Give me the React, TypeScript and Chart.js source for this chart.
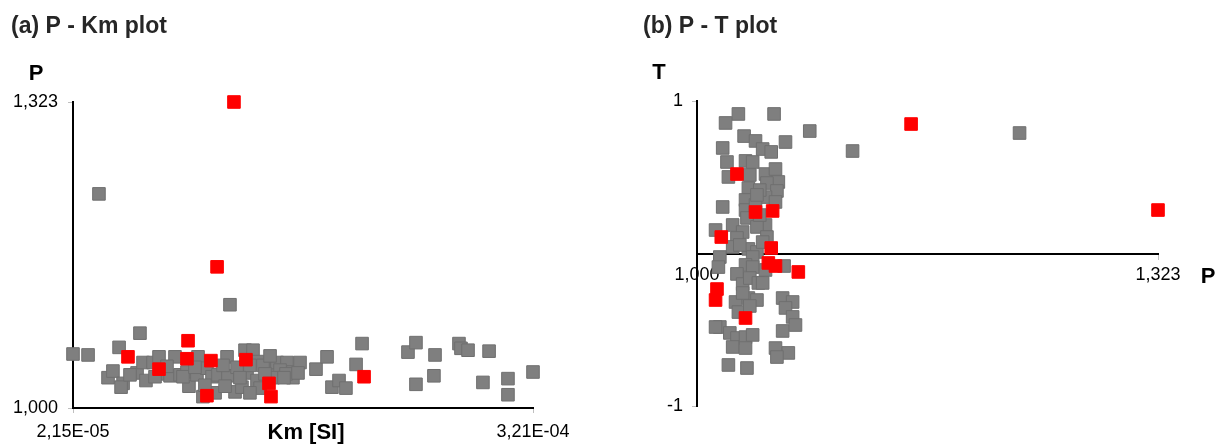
import React, { useEffect, useRef } from 'react';
import { Chart, registerables } from 'chart.js';

Chart.register(...registerables);

const FONT = "'Liberation Sans', Arial, Helvetica, sans-serif";

// ---------- axis ranges & tick labels ----------
const KM_RANGE = [2.15e-5, 3.21e-4];
const KM_TICK_LABELS = ['2,15E-05', '3,21E-04'];
const P_RANGE = [1.0, 1.323];
const P_TICK_LABELS = ['1,000', '1,323'];
const T_RANGE = [-1, 1];
const T_TICK_LABELS = ['-1', '1'];

// ---------- (a) P - Km : grey specimens ----------
const greyKm = [
  3.84e-5, 12.37e-5, 2.15e-5, 3.13e-5, 6.51e-5, 5.15e-5, 4.43e-5, 4.75e-5, 5.41e-5, 5.28e-5,
  6.32e-5, 6.71e-5, 6.9e-5, 7.36e-5, 7.75e-5, 7.94e-5, 8.47e-5, 8.79e-5, 9.12e-5, 9.57e-5,
  9.7e-5, 10.22e-5, 10.29e-5, 10.87e-5, 11.2e-5, 11.59e-5, 12.24e-5, 12.18e-5, 12.7e-5, 13.15e-5,
  13.35e-5, 13.87e-5, 13.48e-5, 14.13e-5, 14.33e-5, 14.2e-5, 14.78e-5, 15.43e-5, 16.08e-5, 16.47e-5,
  16.93e-5, 16.47e-5, 11.4e-5, 10.61e-5, 15.63e-5, 15.17e-5, 17.97e-5, 18.69e-5, 20.97e-5, 20.58e-5,
  19.01e-5, 19.47e-5, 19.92e-5, 23.96e-5, 24.48e-5, 25.72e-5, 24.48e-5, 25.65e-5, 27.28e-5, 27.41e-5,
  27.87e-5, 29.24e-5, 28.84e-5, 30.47e-5, 30.47e-5, 32.1e-5, 9.31e-5, 10.09e-5, 11.92e-5, 12.83e-5,
  13.67e-5, 14.52e-5, 14.65e-5, 16.02e-5, 16.8e-5, 5.86e-5, 8.27e-5, 7.49e-5, 13.02e-5, 14.98e-5,
  10.74e-5, 12.05e-5, 13.67e-5, 15.89e-5,
];
const greyPa = [
  1.226, 1.109, 1.057, 1.056, 1.079, 1.064, 1.032, 1.039, 1.026, 1.022,
  1.037, 1.048, 1.029, 1.048, 1.054, 1.036, 1.034, 1.054, 1.035, 1.038,
  1.023, 1.035, 1.054, 1.042, 1.033, 1.035, 1.034, 1.054, 1.017, 1.022,
  1.061, 1.061, 1.037, 1.029, 1.021, 1.049, 1.043, 1.048, 1.048, 1.038,
  1.048, 1.032, 1.016, 1.012, 1.04, 1.032, 1.041, 1.054, 1.068, 1.046,
  1.022, 1.029, 1.021, 1.059, 1.069, 1.056, 1.025, 1.034, 1.068, 1.063,
  1.061, 1.06, 1.027, 1.031, 1.014, 1.038, 1.033, 1.043, 1.045, 1.043,
  1.045, 1.045, 1.036, 1.036, 1.037, 1.035, 1.044, 1.033, 1.032, 1.055,
  1.024, 1.023, 1.016, 1.032,
];

// ---------- (a) P - Km : red specimens ----------
const redKm = [
  12.63e-5, 11.53e-5, 9.64e-5, 5.73e-5, 9.57e-5, 11.13e-5, 13.41e-5, 7.75e-5, 14.91e-5, 15.04e-5,
  10.87e-5, 21.1e-5,
];
const redPa = [1.323, 1.149, 1.071, 1.054, 1.052, 1.05, 1.051, 1.041, 1.026, 1.012, 1.013, 1.033];

// ---------- (b) P - T : grey specimens ----------
const greyPb = [
  1.029, 1.054, 1.02, 1.033, 1.041, 1.046, 1.052, 1.062, 1.079, 1.109,
  1.226, 1.018, 1.021, 1.034, 1.039, 1.022, 1.037, 1.048, 1.055, 1.057,
  1.036, 1.049, 1.056, 1.034, 1.048, 1.055, 1.018, 1.034, 1.035, 1.025,
  1.048, 1.032, 1.013, 1.028, 1.042, 1.049, 1.025, 1.036, 1.042, 1.039,
  1.016, 1.015, 1.034, 1.039, 1.048, 1.061, 1.028, 1.032, 1.037, 1.043,
  1.027, 1.036, 1.042, 1.029, 1.037, 1.06, 1.067, 1.062, 1.067, 1.016,
  1.023, 1.028, 1.034, 1.039, 1.025, 1.034, 1.06, 1.055, 1.064, 1.056,
  1.022, 1.035, 1.032, 1.046, 1.069, 1.013, 1.044, 1.041, 1.044, 1.03,
  1.042, 1.046,
];
const greyT = [
  0.915, 0.915, 0.856, 0.77, 0.738, 0.685, 0.666, 0.731, 0.803, 0.672,
  0.79, 0.692, 0.6, 0.607, 0.6, 0.502, 0.515, 0.521, 0.554, 0.469,
  0.429, 0.462, 0.41, 0.351, 0.37, 0.338, 0.305, 0.285, 0.233, 0.187,
  0.187, 0.141, 0.154, 0.102, 0.174, 0.108, 0.043, 0.03, 0.01, -0.023,
  -0.023, -0.089, -0.075, -0.089, -0.108, -0.082, -0.134, -0.2, -0.161, -0.193,
  -0.318, -0.292, -0.305, -0.384, -0.344, -0.292, -0.318, -0.357, -0.416, -0.482,
  -0.521, -0.554, -0.548, -0.534, -0.613, -0.62, -0.508, -0.62, -0.652, -0.679,
  -0.731, -0.751, -0.259, -0.193, -0.469, -0.482, 0.416, 0.318, 0.252, 0.056,
  0.384, 0.075,
];

// ---------- (b) P - T : red specimens ----------
const redPb = [1.15, 1.323, 1.028, 1.041, 1.053, 1.017, 1.052, 1.05, 1.055, 1.071, 1.014, 1.013, 1.034];
const redT = [0.849, 0.285, 0.521, 0.272, 0.279, 0.108, 0.036, -0.062, -0.082, -0.121, -0.233, -0.305, -0.423];

const GREY = '#7f7f7f';
const RED = '#ff0000';

function dataset(xs: number[], ys: number[], fill: string, border: string) {
  return {
    data: xs.map((x, i) => ({ x, y: ys[i] })),
    pointStyle: 'rect',
    pointRadius: 8.9,
    pointHoverRadius: 8.9,
    pointBackgroundColor: fill,
    pointBorderColor: border,
    pointBorderWidth: 1,
    showLine: false,
    clip: false,
  };
}

function axis(range: number[], labels: string[], position: any, padding: number, fit?: (s: any) => void) {
  return {
    type: 'linear',
    position,
    min: range[0],
    max: range[1],
    afterBuildTicks: (s: any) => {
      s.ticks = range.map((v) => ({ value: v }));
    },
    afterFit: fit,
    ticks: {
      autoSkip: false,
      maxRotation: 0,
      minRotation: 0,
      padding,
      color: '#000',
      font: { family: FONT, size: 18 },
      callback: (_v: any, i: number) => labels[i],
    },
    grid: { drawOnChartArea: false, drawTicks: true, tickLength: 5, color: '#bfbfbf', lineWidth: 1 },
    border: { display: true, color: '#000', width: 2 },
  };
}

type TextItem = { text: string; x: number; y: number; font: string; align: CanvasTextAlign; color: string };

function textPlugin(items: TextItem[]) {
  return {
    id: 'texts',
    afterDraw(chart: any) {
      const ctx = chart.ctx;
      ctx.save();
      ctx.textBaseline = 'alphabetic';
      for (const t of items) {
        ctx.font = t.font;
        ctx.fillStyle = t.color;
        ctx.textAlign = t.align;
        ctx.fillText(t.text, t.x, t.y);
      }
      ctx.restore();
    },
  };
}

const TITLE_FONT = `bold 23px ${FONT}`;
const AXIS_FONT = `bold 22px ${FONT}`;

export default function App() {
  const refA = useRef<HTMLCanvasElement>(null);
  const refB = useRef<HTMLCanvasElement>(null);

  useEffect(() => {
    const common = {
      responsive: false,
      animation: false,
      devicePixelRatio: 1,
      events: [],
      plugins: { legend: { display: false }, tooltip: { enabled: false } },
    };

    const chartA = new Chart(refA.current as HTMLCanvasElement, {
      type: 'scatter',
      data: {
        datasets: [
          dataset(redKm, redPa, RED, RED),
          dataset(greyKm, greyPa, GREY, '#6f6f6f'),
        ] as any,
      },
      options: {
        ...common,
        layout: { padding: { left: 0, top: 102, right: 79, bottom: 0 } },
        scales: {
          x: axis(KM_RANGE, KM_TICK_LABELS, 'bottom', 8, (s) => { s.height = 36; }),
          y: axis(P_RANGE, P_TICK_LABELS, 'left', 10, (s) => { s.width = 73; }),
        },
      } as any,
      plugins: [
        textPlugin([
          { text: '(a) P - Km plot', x: 11, y: 33, font: TITLE_FONT, align: 'left', color: '#262626' },
          { text: 'P', x: 36, y: 80, font: AXIS_FONT, align: 'center', color: '#000' },
          { text: 'Km [SI]', x: 306, y: 439, font: AXIS_FONT, align: 'center', color: '#000' },
        ]),
      ],
    });

    const chartB = new Chart(refB.current as HTMLCanvasElement, {
      type: 'scatter',
      data: {
        datasets: [
          dataset(redPb, redT, RED, RED),
          dataset(greyPb, greyT, GREY, '#6f6f6f'),
        ] as any,
      },
      options: {
        ...common,
        layout: { padding: { left: 0, top: 101, right: 67, bottom: 38 } },
        scales: {
          x: axis(P_RANGE, P_TICK_LABELS, { y: 0 }, 6),
          y: axis(T_RANGE, T_TICK_LABELS, 'left', 9, (s) => { s.width = 85; }),
        },
      } as any,
      plugins: [
        textPlugin([
          { text: '(b) P - T plot', x: 31, y: 33, font: TITLE_FONT, align: 'left', color: '#262626' },
          { text: 'T', x: 47, y: 79, font: AXIS_FONT, align: 'center', color: '#000' },
          { text: 'P', x: 596, y: 283, font: AXIS_FONT, align: 'center', color: '#000' },
        ]),
      ],
    });

    return () => {
      chartA.destroy();
      chartB.destroy();
    };
  }, []);

  return (
    <div style={{ position: 'fixed', left: 0, top: 0, width: 1225, height: 444, background: '#fff' }}>
      <canvas ref={refA} width={612} height={444} style={{ position: 'absolute', left: 0, top: 0, width: 612, height: 444 }} />
      <canvas ref={refB} width={613} height={444} style={{ position: 'absolute', left: 612, top: 0, width: 613, height: 444 }} />
    </div>
  );
}
